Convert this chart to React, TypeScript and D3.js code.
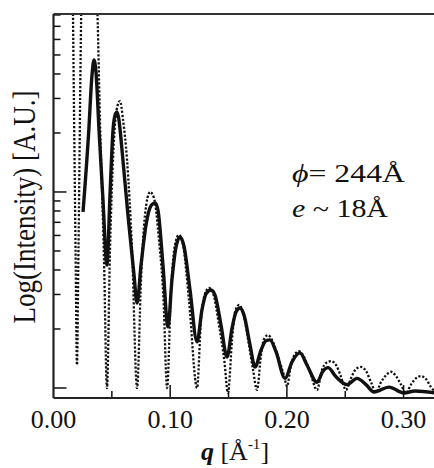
import React from "react";
import * as d3 from "d3";

// Experimental curve (solid): q [1/Å], intensity [A.U.]
const solidQ = [0.0253, 0.0300, 0.0330, 0.0347, 0.0364, 0.0390, 0.0424, 0.0458, 0.0484, 0.0510, 0.0531, 0.0544, 0.0561, 0.0587, 0.0638, 0.0690, 0.0716, 0.0750, 0.0793, 0.0835, 0.0870, 0.0895, 0.0938, 0.0981, 0.1015, 0.1050, 0.1084, 0.1118, 0.1170, 0.1230, 0.1272, 0.1307, 0.1350, 0.1384, 0.1435, 0.1487, 0.1530, 0.1564, 0.1598, 0.1632, 0.1684, 0.1727, 0.1778, 0.1821, 0.1855, 0.1907, 0.1984, 0.2044, 0.2112, 0.2172, 0.2258, 0.2309, 0.2352, 0.2421, 0.2515, 0.2601, 0.2678, 0.2746, 0.2875, 0.3003, 0.3098, 0.3278];
const solidI = [7.91, 19.5, 39.5, 47.1, 40.9, 20.7, 9.10, 4.24, 9.65, 20.7, 25.0, 25.6, 23.3, 16.4, 7.63, 3.77, 2.71, 4.24, 6.79, 8.49, 8.79, 8.09, 4.24, 2.05, 3.56, 5.24, 5.89, 5.30, 3.16, 1.72, 2.50, 3.02, 3.16, 2.98, 2.10, 1.44, 2.02, 2.44, 2.56, 2.36, 1.66, 1.28, 1.56, 1.74, 1.76, 1.53, 1.12, 1.36, 1.51, 1.31, 1.07, 1.22, 1.27, 1.14, 1.04, 1.12, 1.04, 0.954, 1.01, 0.943, 0.965, 0.943];

// Model curve (dotted)
const modelQ = [0.0163, 0.0189, 0.0201, 0.0214, 0.0244, 0.0304, 0.0373, 0.0398, 0.0433, 0.0458, 0.0484, 0.0518, 0.0548, 0.0570, 0.0596, 0.0630, 0.0673, 0.0716, 0.0750, 0.0784, 0.0827, 0.0861, 0.0904, 0.0943, 0.0973, 0.1007, 0.1041, 0.1075, 0.1110, 0.1161, 0.1230, 0.1264, 0.1298, 0.1332, 0.1367, 0.1418, 0.1465, 0.1495, 0.1530, 0.1555, 0.1590, 0.1623, 0.1675, 0.1710, 0.1744, 0.1778, 0.1808, 0.1838, 0.1872, 0.1932, 0.1975, 0.2001, 0.2035, 0.2069, 0.2104, 0.2138, 0.2198, 0.2258, 0.2301, 0.2335, 0.2378, 0.2421, 0.2464, 0.2506, 0.2549, 0.2592, 0.2635, 0.2678, 0.2721, 0.2763, 0.2806, 0.2849, 0.2892, 0.2935, 0.2978, 0.3021, 0.3063, 0.3106, 0.3149, 0.3192, 0.3235, 0.3278];
const modelI = [136, 5.06, 1.31, 5.06, 121, 309, 95.4, 23.3, 4.50, 1.0, 5.06, 18.4, 27.5, 29.1, 23.3, 14.6, 5.06, 1.0, 3.56, 7.63, 10.0, 9.32, 5.69, 2.81, 1.0, 3.16, 5.37, 6.04, 5.37, 2.81, 1.0, 2.22, 3.02, 3.24, 3.05, 2.10, 1.36, 0.943, 1.76, 2.44, 2.65, 2.44, 1.66, 1.24, 0.977, 1.47, 1.80, 1.86, 1.76, 1.39, 1.16, 1.02, 1.31, 1.49, 1.54, 1.47, 1.21, 0.977, 1.24, 1.34, 1.37, 1.31, 1.14, 0.977, 1.12, 1.25, 1.28, 1.22, 1.07, 0.954, 1.07, 1.16, 1.21, 1.15, 1.04, 0.943, 1.04, 1.12, 1.15, 1.11, 1.01, 0.943];

const xLabelTicks = [0, 0.1, 0.2, 0.3];
const xLabelTexts = ["0.00", "0.10", "0.20", "0.30"];
const xMajorTicks = [0.1, 0.2, 0.3];
const xMinorTicks = [0.05, 0.15, 0.25];
const yMajorTicks = [1, 10];
const yMinorTicks = [2, 3, 4, 5, 6, 7, 8, 9, 20, 30, 40, 50, 60, 70, 80];

const W = 434;
const H = 468;
const left = 53.5;
const right = 440;
const top = 14;
const bottom = 398;

export default function App() {
  const x = d3.scaleLinear().domain([0, 0.3312]).range([left, right]);
  const y = d3.scaleLog().domain([0.889, 80.9]).range([bottom, top]);

  const solid = solidQ.map((q, i) => [q, solidI[i]] as [number, number]);
  const model = modelQ.map((q, i) => [q, modelI[i]] as [number, number]);

  const line = d3
    .line<[number, number]>()
    .x((d) => x(d[0]))
    .y((d) => y(d[1]))
    .curve(d3.curveMonotoneX);

  const font = "'Liberation Serif', 'Times New Roman', serif";
  const ink = "#111";

  return (
    <svg
      width={W}
      height={H}
      viewBox={`0 0 ${W} ${H}`}
      style={{ position: "absolute", left: 0, top: 0, background: "#fff" }}
    >
      <defs>
        <clipPath id="plotClip">
          <rect x={left} y={top} width={W - left} height={bottom - top} />
        </clipPath>
      </defs>
      <rect x={0} y={0} width={W} height={H} fill="#fff" />

      <g clipPath="url(#plotClip)">
        <path
          d={line(model) || ""}
          fill="none"
          stroke={ink}
          strokeWidth={2.3}
          strokeDasharray="2.2 1.8"
        />
        <path
          d={line(solid) || ""}
          fill="none"
          stroke={ink}
          strokeWidth={3.4}
          strokeLinejoin="round"
        />
      </g>

      {/* ticks */}
      {xMajorTicks.map((t) => (
        <line key={"xM" + t} x1={x(t)} x2={x(t)} y1={bottom} y2={bottom - 13} stroke={ink} strokeWidth={1.5} />
      ))}
      {xMinorTicks.map((t) => (
        <line key={"xm" + t} x1={x(t)} x2={x(t)} y1={bottom} y2={bottom - 7} stroke={ink} strokeWidth={1.5} />
      ))}
      {yMajorTicks.map((t) => (
        <line key={"yM" + t} x1={left} x2={left + 13} y1={y(t)} y2={y(t)} stroke={ink} strokeWidth={1.5} />
      ))}
      {yMinorTicks.map((t) => (
        <line key={"ym" + t} x1={left} x2={left + 7} y1={y(t)} y2={y(t)} stroke={ink} strokeWidth={1.5} />
      ))}

      {/* frame */}
      <line x1={left} x2={W} y1={top} y2={top} stroke="#333" strokeWidth={2.2} />
      <line x1={left} x2={left} y1={top} y2={bottom} stroke="#222" strokeWidth={2.2} />
      <line x1={left} x2={W} y1={bottom} y2={bottom} stroke="#222" strokeWidth={2.2} />

      {/* tick labels */}
      {xLabelTicks.map((t, i) => (
        <text
          key={"xl" + t}
          x={x(t)}
          y={428}
          textAnchor="middle"
          fontFamily={font}
          fontSize={26}
          fill={ink}
        >
          {xLabelTexts[i]}
        </text>
      ))}

      {/* x axis title */}
      <text x={235} y={460} textAnchor="middle" fontFamily={font} fontSize={26} fill={ink}>
        <tspan fontWeight="bold" fontStyle="italic">q</tspan>
        <tspan> [Å</tspan>
        <tspan fontSize={15} dy={-11}>-1</tspan>
        <tspan dy={11}>]</tspan>
      </text>

      {/* y axis title */}
      <text
        transform={`translate(35,207) rotate(-90) scale(1,1.15)`}
        textAnchor="middle"
        fontFamily={font}
        fontSize={27}
        fill={ink}
      >
        Log(Intensity) [A.U.]
      </text>

      {/* annotation */}
      <text
        x={292}
        y={182}
        fontFamily={font}
        fontSize={25}
        fill={ink}
        textLength={113}
        lengthAdjust="spacingAndGlyphs"
      >
        <tspan fontStyle="italic">ϕ</tspan>= 244Å
      </text>
      <text
        x={292}
        y={217}
        fontFamily={font}
        fontSize={25}
        fill={ink}
        textLength={96}
        lengthAdjust="spacingAndGlyphs"
      >
        <tspan fontStyle="italic">e</tspan> ~ 18Å
      </text>
    </svg>
  );
}
